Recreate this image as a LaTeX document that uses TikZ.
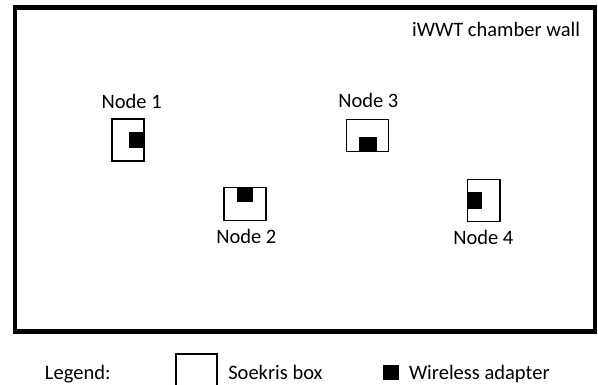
\documentclass[tikz,border=0pt]{standalone}
\usepackage{fontspec}
\setmainfont{Carlito}
\tikzset{
  wall/.style={draw=black, line width=4.7pt},
  soekris/.style={draw=black, line width=1.2pt, fill=white, inner sep=0pt, outer sep=0pt},
  adapter/.style={fill=black, draw=none, inner sep=0pt, outer sep=0pt},
  lbl/.style={inner sep=0pt, outer sep=0pt, anchor=base, font=\fontsize{20.5}{24}\selectfont},
}
\begin{document}
\begin{tikzpicture}[x=1pt, y=-1pt]
\useasboundingbox (0,0) rectangle (598,385);

% chamber wall
\draw[wall] (15,7.5) rectangle (595,331.5);
\node[lbl, anchor=base east] (walllabel) at (580,36.7) {iWWT chamber wall};

% Node 1
\node[soekris, minimum width=32pt, minimum height=42pt] (box1) at (128,140) {};
\node[adapter, minimum width=14pt, minimum height=16pt] (ad1) at (136,140) {};
\node[lbl] (n1) at (131.7,108.3) {Node 1};

% Node 2
\node[soekris, minimum width=42pt, minimum height=33pt] (box2) at (245,203.7) {};
\node[adapter, minimum width=16.6pt, minimum height=15pt] (ad2) at (245,194.8) {};
\node[lbl] (n2) at (246.3,243.3) {Node 2};

% Node 3
\node[soekris, minimum width=41.6pt, minimum height=32.4pt] (box3) at (367.5,135.5) {};
\node[adapter, minimum width=17.4pt, minimum height=15pt] (ad3) at (368,144.2) {};
\node[lbl] (n3) at (368.3,107.3) {Node 3};

% Node 4
\node[soekris, minimum width=32.7pt, minimum height=42.4pt] (box4) at (483.7,200.5) {};
\node[adapter, minimum width=15pt, minimum height=17pt] (ad4) at (474.8,200.8) {};
\node[lbl] (n4) at (483.3,244.3) {Node 4};

% legend
\node[lbl, anchor=base west] (legend) at (45,379.3) {Legend:};
\draw[line width=1.2pt] (176,388) -- (176,354) -- (217,354) -- (217,388);
\coordinate (legbox) at (196.5,370);
\node[lbl, anchor=base west] (legsoekris) at (228.3,379.3) {Soekris box};
\node[adapter, minimum width=16pt, minimum height=15pt] (legad) at (391.3,372.8) {};
\node[lbl, anchor=base west] (legwireless) at (409,379.3) {Wireless adapter};
\end{tikzpicture}
\end{document}
